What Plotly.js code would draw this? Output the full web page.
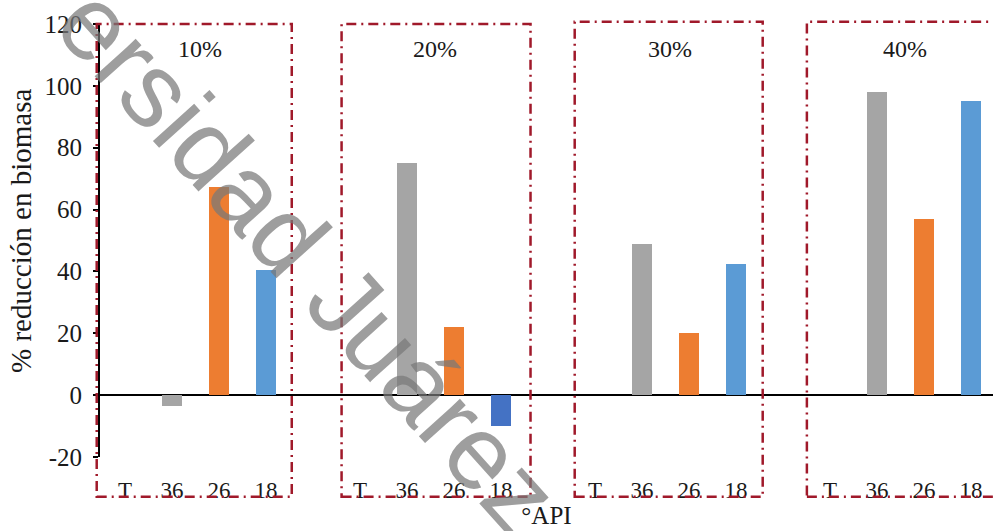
<!DOCTYPE html>
<html>
<head>
<meta charset="utf-8">
<script src="https://cdn.plot.ly/plotly-3.0.1.min.js"></script>
<style>
  html, body { margin: 0; padding: 0; background: #ffffff; }
  #chart { width: 993px; height: 531px; }
</style>
</head>
<body>
<div id="chart"></div>
<script>
// Dilution levels (one framed group each) and the crude oils tested in each group
const groups = ['10%', '20%', '30%', '40%'];
const apiLabels = ['T', '36', '26', '18'];

// % biomass reduction per crude (°API), one value per dilution group
const valT  = [0, 0, 0, 0];
const val36 = [-3.5, 74.9, 49.0, 98.1];
const val26 = [67.4, 22.1, 20.1, 57.1];
const val18 = [40.4, -9.9, 42.4, 95.2];

// y-axis ticks (plain hyphen for the negative label)
const yTickVals = [-20, 0, 20, 40, 60, 80, 100, 120];
const yTickText = ['-20', '0', '20', '40', '60', '80', '100', '120'];

// Each group takes 4 slots plus one empty slot as a spacer
const SLOTS = apiLabels.length + 1;
const xOf = (g, k) => g * SLOTS + k;

const xRange = [-0.53, 18.47];
const yRange = [-20, 120];

const serif = 'Liberation Serif, Times New Roman, serif';

function barTrace(k, vals, colors) {
  return {
    type: 'bar',
    x: groups.map((_, g) => xOf(g, k)),
    y: vals,
    width: 0.42,
    marker: { color: colors, line: { width: 0 } },
    hoverinfo: 'y',
    showlegend: false
  };
}

const traces = [
  barTrace(0, valT, '#A5A5A5'),
  barTrace(1, val36, '#A5A5A5'),
  barTrace(2, val26, '#ED7D31'),
  barTrace(3, val18, ['#5B9BD5', '#4472C4', '#5B9BD5', '#5B9BD5'])
];

// Tick positions/labels for every slot that holds a crude
const tickVals = [];
const tickText = [];
groups.forEach((_, g) => apiLabels.forEach((lab, k) => {
  tickVals.push(xOf(g, k));
  tickText.push(lab);
}));

// Convert an x slot position to paper fraction (for the framing boxes)
const px = v => (v - xRange[0]) / (xRange[1] - xRange[0]);

// Dash-dot frames around each group
const boxLeft  = [-0.60, 4.61, 9.57, 14.51];
const boxRight = [3.55, 8.63, 13.57, 18.80];
const boxTop   = [1.0, 1.0, 1.005, 1.005];
const frameLine = { color: '#A0192A', width: 2.5, dash: '10px,5px,2px,5px' };
const shapes = groups.map((_, g) => ({
  type: 'rect',
  xref: 'paper', yref: 'paper',
  x0: px(boxLeft[g]), x1: px(boxRight[g]),
  y0: -0.092, y1: boxTop[g],
  line: frameLine,
  fillcolor: 'rgba(0,0,0,0)',
  layer: 'above'
}));

// Group captions inside each frame
const annotations = groups.map((txt, g) => ({
  x: xOf(g, 1.6), y: 112,
  xref: 'x', yref: 'y',
  text: txt,
  showarrow: false,
  font: { family: serif, size: 24, color: '#1a1a1a' }
}));

// Vertical y-axis caption
annotations.push({
  xref: 'paper', yref: 'paper',
  x: -0.0885, y: 0.522,
  xanchor: 'center', yanchor: 'middle',
  text: '% reducción en biomasa',
  textangle: -90,
  showarrow: false,
  font: { family: serif, size: 29, color: '#1a1a1a' }
});

// Diagonal institutional watermark
annotations.push({
  xref: 'paper', yref: 'paper',
  x: 0.234, y: 0.457,
  xanchor: 'center', yanchor: 'middle',
  text: 'ersidad Juárez',
  textangle: 48,
  showarrow: false,
  font: { family: 'Liberation Sans, Arial, sans-serif', size: 105, color: 'rgba(120,120,120,0.72)' }
});

const layout = {
  width: 993,
  height: 531,
  margin: { l: 100, r: 0, t: 24, b: 74 },
  paper_bgcolor: '#ffffff',
  plot_bgcolor: '#ffffff',
  bargap: 0,
  showlegend: false,
  font: { family: serif, color: '#1a1a1a' },
  xaxis: {
    range: xRange,
    tickvals: tickVals,
    ticktext: tickText,
    ticks: '',
    showgrid: false,
    zeroline: false,
    showline: false,
    ticklabelstandoff: 17,
    tickfont: { family: serif, size: 23, color: '#1a1a1a' },
    title: { text: '°API', font: { family: serif, size: 25, color: '#1a1a1a' }, standoff: 4 },
    fixedrange: true
  },
  yaxis: {
    range: yRange,
    tickvals: yTickVals,
    ticktext: yTickText,
    ticks: 'outside',
    ticklen: 5,
    tickwidth: 2,
    tickcolor: '#000000',
    showline: true,
    linecolor: '#000000',
    linewidth: 2,
    showgrid: false,
    zeroline: true,
    zerolinecolor: '#000000',
    zerolinewidth: 2,
    ticklabelstandoff: 6,
    tickfont: { family: serif, size: 25, color: '#1a1a1a' },
    fixedrange: true
  },
  shapes: shapes,
  annotations: annotations
};

Plotly.newPlot('chart', traces, layout, { displayModeBar: false, staticPlot: true });
</script>
</body>
</html>
